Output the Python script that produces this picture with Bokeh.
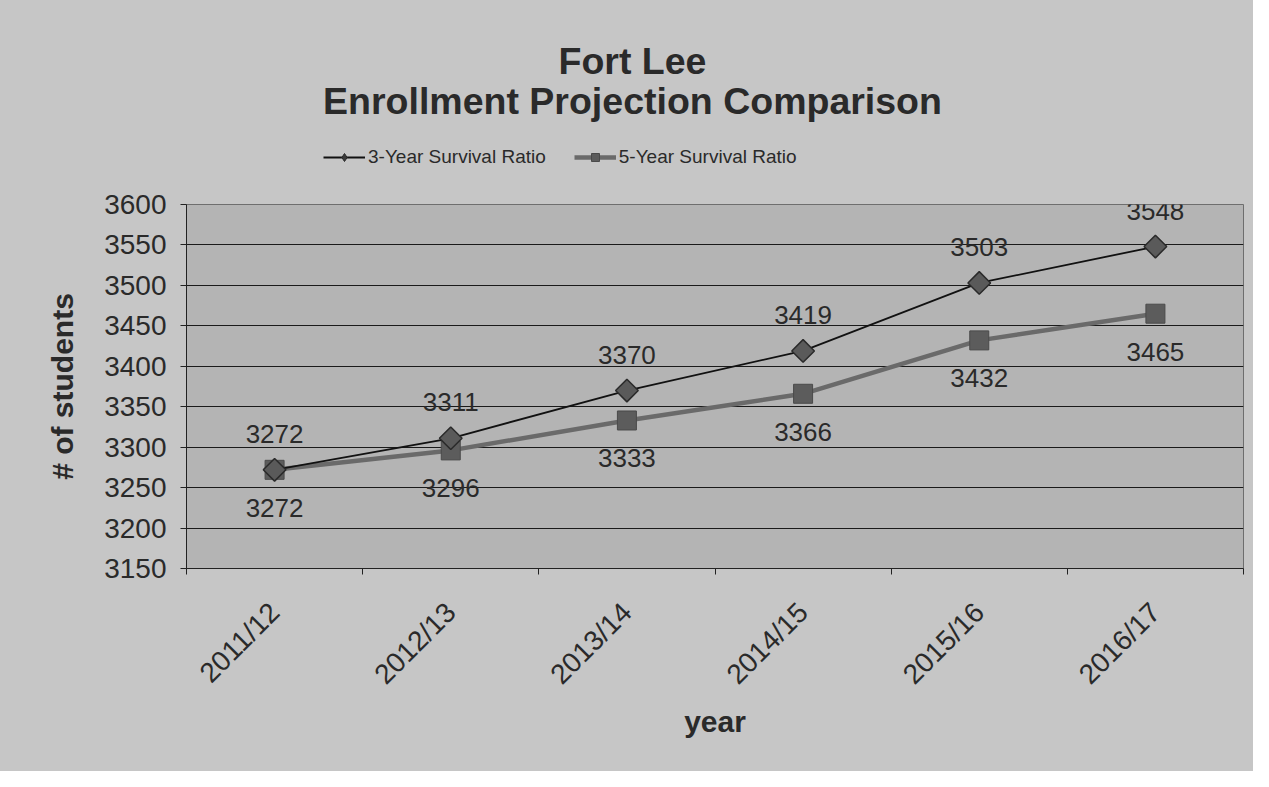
from math import pi
from bokeh.plotting import figure
from bokeh.layouts import column
from bokeh.models import (ColumnDataSource, FixedTicker, Legend, LegendItem,
                          LabelSet, Label, Range1d)
from bokeh.core.properties import value
from bokeh.embed import file_html
from bokeh.resources import INLINE

years = ["2011/12", "2012/13", "2013/14", "2014/15", "2015/16", "2016/17"]
three_year = [3272, 3311, 3370, 3419, 3503, 3548]
five_year = [3272, 3296, 3333, 3366, 3432, 3465]
y_ticks = [3150, 3200, 3250, 3300, 3350, 3400, 3450, 3500, 3550, 3600]
series_names = ["3-Year Survival Ratio", "5-Year Survival Ratio"]
title_lines = ["Fort Lee", "Enrollment Projection Comparison"]

FONT = "Liberation Sans"
BG = "#c6c6c6"
PLOT_BG = "#b4b4b4"
TXT = "#2a2a2a"
W = 1253
BL, BR = 186, 10          # left / right borders (frame spans BL .. W-BR)
HEAD_H = 186
MAIN_H = 771 - HEAD_H

S3 = dict(line_color="#111111", line_width=1.8)
M3 = dict(marker="square", angle=pi / 4, size=16, fill_color="#5a5a5a",
          line_color="#2a2a2a", line_width=1.5)
S5 = dict(line_color="#6a6a6a", line_width=4.5)
M5 = dict(marker="square", size=19, fill_color="#5c5c5c", line_color="#4a4a4a")

xs = [i + 0.5 for i in range(len(years))]
src = ColumnDataSource(dict(
    x=xs, y3=three_year, y5=five_year,
    t3=[str(v) for v in three_year], t5=[str(v) for v in five_year]))

# ---------------- header: titles + legend ----------------
head = figure(width=W, height=HEAD_H, output_backend="svg", toolbar_location=None,
              title=None, x_range=Range1d(BL, W - BR), y_range=Range1d(0, HEAD_H),
              min_border_left=BL, min_border_right=BR, min_border_top=0,
              min_border_bottom=0)
head.axis.visible = False
head.grid.grid_line_color = None
head.outline_line_color = None
head.background_fill_color = BG
head.border_fill_color = BG

head.add_layout(Label(x=632, y=126, text=title_lines[0], text_align="center",
                      text_baseline="middle", text_font=FONT, text_font_size="37.5px",
                      text_font_style="bold", text_color=TXT))
head.add_layout(Label(x=632, y=86, text=title_lines[1], text_align="center",
                      text_baseline="middle", text_font=FONT, text_font_size="37.5px",
                      text_font_style="bold", text_color=TXT))

# legend glyphs: same series, drawn in the header (their points lie outside its ranges)
hl3 = head.line("x", "y3", source=src, **S3)
hm3 = head.scatter("x", "y3", source=src, marker="diamond", size=15,
                   fill_color="#3a3a3a", line_color="#2a2a2a", line_width=1)
hl5 = head.line("x", "y5", source=src, **S5)
hm5 = head.scatter("x", "y5", source=src, **dict(M5, size=12))

legend = Legend(items=[LegendItem(label=series_names[0], renderers=[hl3, hm3]),
                       LegendItem(label=series_names[1], renderers=[hl5, hm5])],
                orientation="horizontal", location=(137, 18),
                glyph_width=42, glyph_height=20, label_standoff=3, spacing=28,
                padding=0, margin=0, border_line_color=None,
                background_fill_alpha=0,
                label_text_font=FONT, label_text_font_size="19px",
                label_text_color=TXT)
head.add_layout(legend, "center")

# ---------------- main chart ----------------
p = figure(width=W, height=MAIN_H, output_backend="svg", toolbar_location=None,
           title=None,
           x_range=Range1d(0, len(years)), y_range=Range1d(y_ticks[0], y_ticks[-1]),
           min_border_left=BL, min_border_right=BR, min_border_top=18,
           min_border_bottom=203)
p.background_fill_color = PLOT_BG
p.border_fill_color = BG
p.outline_line_color = "#6e6e6e"
p.outline_line_width = 1

p.xaxis.ticker = FixedTicker(ticks=xs, minor_ticks=list(range(len(years) + 1)))
p.xaxis.major_label_overrides = {x: y for x, y in zip(xs, years)}
p.xaxis.major_label_orientation = pi / 4
p.xaxis.major_tick_out = 0
p.xaxis.major_tick_in = 0
p.xaxis.minor_tick_out = 6
p.xaxis.minor_tick_in = 0
p.xaxis.minor_tick_line_color = "#222222"
p.xaxis.major_label_standoff = 33
p.xaxis.major_label_text_font = FONT
p.xaxis.major_label_text_font_size = "28px"
p.xaxis.major_label_text_color = TXT
p.xaxis.axis_label = "year"
p.xaxis.axis_label_text_font = FONT
p.xaxis.axis_label_text_font_size = "30px"
p.xaxis.axis_label_text_font_style = "bold"
p.xaxis.axis_label_text_color = TXT
p.xaxis.axis_label_standoff = 1
p.xaxis.axis_line_color = "#222222"

p.yaxis.ticker = FixedTicker(ticks=y_ticks)
p.yaxis.minor_tick_line_color = None
p.yaxis.major_tick_out = 6
p.yaxis.major_tick_in = 0
p.yaxis.major_tick_line_color = "#222222"
p.yaxis.major_label_standoff = 14
p.yaxis.major_label_text_font = FONT
p.yaxis.major_label_text_font_size = "28px"
p.yaxis.major_label_text_color = TXT
p.yaxis.axis_label = "# of students"
p.yaxis.axis_label_text_font = FONT
p.yaxis.axis_label_text_font_size = "30px"
p.yaxis.axis_label_text_font_style = "bold"
p.yaxis.axis_label_text_color = TXT
p.yaxis.axis_label_standoff = 22
p.yaxis.axis_line_color = "#222222"

p.xgrid.grid_line_color = None
p.ygrid.grid_line_color = "#1a1a1a"
p.ygrid.grid_line_width = 1.2

p.line("x", "y5", source=src, **S5)
p.scatter("x", "y5", source=src, **M5)
p.line("x", "y3", source=src, **S3)
p.scatter("x", "y3", source=src, **M3)

p.add_layout(LabelSet(x="x", y="y3", text="t3", source=src, y_offset=36,
                      text_align="center", text_baseline="middle",
                      text_font=value(FONT), text_font_size=value("26px"),
                      text_color=TXT))
p.add_layout(LabelSet(x="x", y="y5", text="t5", source=src, y_offset=-38,
                      text_align="center", text_baseline="middle",
                      text_font=value(FONT), text_font_size=value("26px"),
                      text_color=TXT))

layout = column(head, p, spacing=0, styles={"background-color": BG})
open("out.html", "w").write(file_html(layout, INLINE))
